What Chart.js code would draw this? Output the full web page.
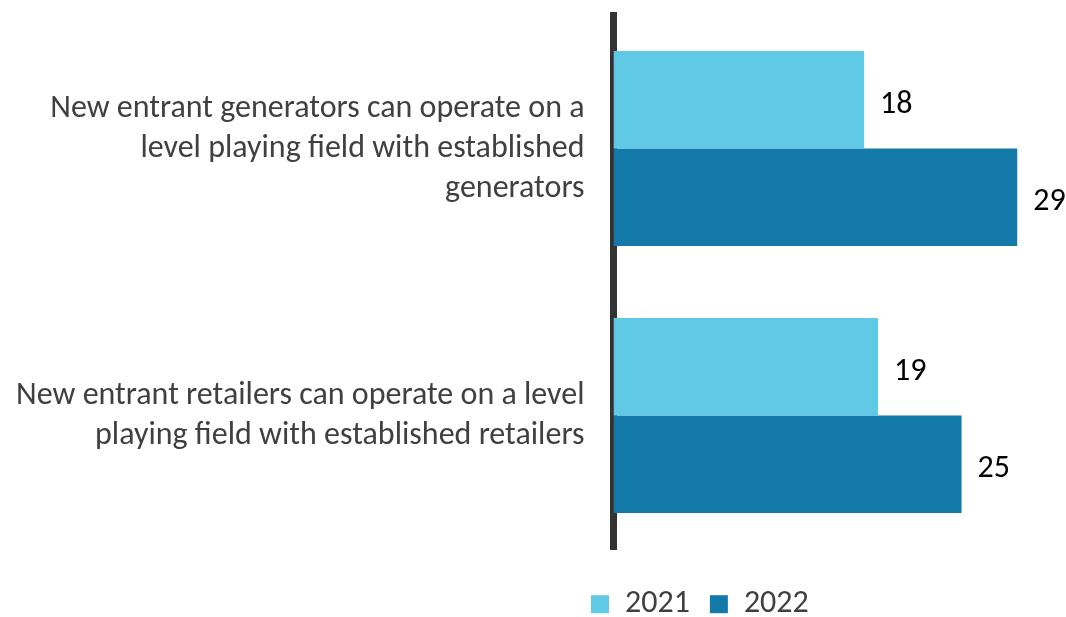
<!DOCTYPE html>
<html>
<head>
<meta charset="utf-8">
<script src="https://cdn.jsdelivr.net/npm/chart.js@4/dist/chart.umd.min.js"></script>
<style>
  html, body { margin: 0; padding: 0; background: #fff; }
  #wrap { width: 1066px; height: 617px; position: relative; }
</style>
</head>
<body>
<div id="wrap"><canvas id="chart"></canvas></div>
<script>
// Survey statements (multi-line labels) and scores per year
const categories = [
  ["New entrant generators can operate on a", "level playing field with established", "generators"],
  ["New entrant retailers can operate on a level", "playing field with established retailers"]
];
const seriesNames = ["2021", "2022"];
const values2021 = [18, 19];
const values2022 = [29, 25];
const seriesColors = ["#5FC9E6", "#1279A8"];

const FONT = "Carlito, Lato, 'Open Sans', sans-serif";

// Writes each bar's value just past its end
const valueLabels = {
  id: 'valueLabels',
  afterDatasetsDraw(chart) {
    const ctx = chart.ctx;
    ctx.save();
    ctx.font = "32px " + FONT;
    ctx.fillStyle = "#000";
    ctx.textAlign = "left";
    ctx.textBaseline = "middle";
    chart.data.datasets.forEach((ds, i) => {
      chart.getDatasetMeta(i).data.forEach((bar, j) => {
        ctx.fillText(String(ds.data[j]), bar.x + 16, bar.y + 5);
      });
    });
    ctx.restore();
  }
};

// Keeps the legend band a fixed height and starts its items under the plot
const legendPlacement = {
  id: 'legendPlacement',
  afterInit(chart) {
    const legend = chart.legend;
    const fit = legend.fit;
    legend.fit = function () {
      fit.call(this);
      this.height = 68;
    };
  },
  afterLayout(chart) {
    const legend = chart.legend;
    const pad = legend.options.labels.padding;
    legend.left = 591 - pad;
  }
};

new Chart(document.getElementById('chart'), {
  type: 'bar',
  data: {
    labels: categories,
    datasets: [
      { label: seriesNames[0], data: values2021, backgroundColor: seriesColors[0] },
      { label: seriesNames[1], data: values2022, backgroundColor: seriesColors[1] }
    ]
  },
  options: {
    indexAxis: 'y',
    responsive: true,
    maintainAspectRatio: false,
    animation: false,
    layout: { padding: { top: 15, right: 7, left: 0, bottom: 0 } },
    datasets: { bar: { categoryPercentage: 0.73, barPercentage: 1 } },
    scales: {
      x: { display: false, min: 0, max: 32 },
      y: {
        z: 1,
        grid: { display: false, drawTicks: false },
        border: { display: true, color: '#333333', width: 7 },
        ticks: {
          color: '#404040',
          padding: 29,
          font: { family: FONT, size: 32, lineHeight: 1.25 }
        },
        afterFit(scale) {
          scale.width = 613.5;
          scale.paddingTop = 0;
          scale.paddingBottom = 0;
        }
      }
    },
    plugins: {
      tooltip: { enabled: false },
      legend: {
        position: 'bottom',
        align: 'start',
        title: { display: true, text: '', font: { size: 1 }, padding: { top: 18, bottom: 0 } },
        labels: {
          color: '#404040',
          boxWidth: 18,
          boxHeight: 18,
          padding: 20,
          font: { family: FONT, size: 32 }
        }
      }
    }
  },
  plugins: [valueLabels, legendPlacement]
});
</script>
</body>
</html>
